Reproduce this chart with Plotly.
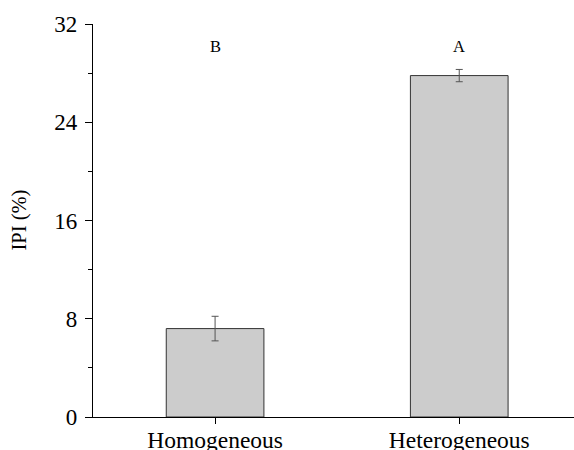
import plotly.graph_objects as go

categories = ["Homogeneous", "Heterogeneous"]
ipi_values = [7.2, 27.8]
ipi_errors = [1.0, 0.5]
group_letters = ["B", "A"]
letter_y = 30.2
y_ticks = [0, 8, 16, 24, 32]

FONT = "Liberation Serif, Times New Roman, serif"

fig = go.Figure()
fig.add_trace(go.Bar(
    x=categories, y=ipi_values,
    width=0.4,
    marker=dict(color="#cccccc", line=dict(color="#333333", width=1)),
    error_y=dict(type="data", array=ipi_errors, visible=True,
                 color="#555555", thickness=1, width=3.5),
))

for c, lab in zip(categories, group_letters):
    fig.add_annotation(x=c, y=letter_y, text=lab, showarrow=False,
                       font=dict(family=FONT, size=16.5, color="black"),
                       xanchor="center", yanchor="middle")

fig.add_annotation(xref="paper", yref="paper", x=0, y=0.5, xshift=-74,
                   text="IPI (%)", textangle=-90, showarrow=False,
                   font=dict(family=FONT, size=20.5, color="black"),
                   xanchor="center", yanchor="middle")

fig.update_layout(
    width=574, height=450,
    margin=dict(l=93, r=0, t=24, b=33, autoexpand=False),
    plot_bgcolor="white", paper_bgcolor="white",
    showlegend=False,
    bargap=0.6,
    font=dict(family=FONT, color="black"),
)
fig.update_xaxes(
    range=[-0.5, 1.47], showline=True, linecolor="black", linewidth=1.3,
    ticks="outside", ticklen=6, tickcolor="black", tickwidth=1,
    minor=dict(ticks="outside", ticklen=4, tickcolor="black", dtick=0.5, tick0=0.5),
    tickfont=dict(family=FONT, size=23.5, color="black"),
    ticklabelstandoff=-4,
    showgrid=False, zeroline=False, automargin=False,
)
fig.update_yaxes(
    range=[0, 32], tickvals=y_ticks, showline=True, linecolor="black", linewidth=1.3,
    ticks="outside", ticklen=7, tickcolor="black", tickwidth=1,
    minor=dict(ticks="outside", ticklen=4, tickcolor="black", dtick=4, tick0=0),
    tickfont=dict(family=FONT, size=23, color="black"),
    ticklabelstandoff=3,
    showgrid=False, zeroline=False, automargin=False,
)

fig.write_html("out.html")
